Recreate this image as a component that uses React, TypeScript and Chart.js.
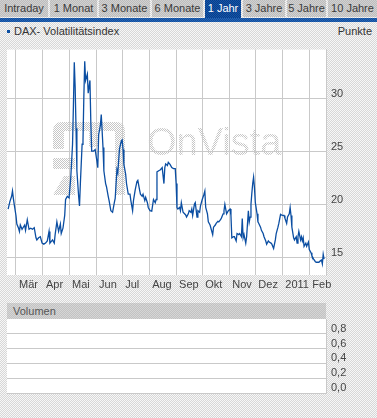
import React, { useEffect, useRef } from "react";
import { Chart, registerables } from "chart.js";

Chart.register(...registerables);

// ---------- data ----------
const tabLabels = ["Intraday", "1 Monat", "3 Monate", "6 Monate", "1 Jahr", "3 Jahre", "5 Jahre", "10 Jahre"];
const activeTab = "1 Jahr";
const seriesName = "DAX- Volatilitätsindex";
const unitLabel = "Punkte";
const volumeTitle = "Volumen";

// days counted from 1 March 2010
const dayOffsets = [
  -9, -7, -5, -4, -3, -2, 0, 1, 3, 4, 5, 7, 10, 11, 13, 15, 17, 19, 21, 23, 24, 26, 28, 30, 32, 34, 36, 38, 39, 42,
  44, 45, 47, 49, 51, 52, 54, 56, 57, 59, 61, 63, 65, 66, 67, 68, 69, 70, 72, 73, 74, 76, 77, 78, 79, 80, 82, 83, 85, 86,
  87, 89, 91, 93, 94, 95, 97, 98, 100, 101, 103, 104, 106, 107, 109, 111, 113, 114, 116, 117, 118, 119, 121, 122, 123, 124, 126, 127, 129, 131,
  132, 134, 135, 137, 139, 140, 142, 143, 145, 146, 148, 149, 151, 152, 154, 156, 158, 160, 161, 162, 164, 166, 168, 170, 171, 172, 174, 175, 177, 179,
  181, 183, 184, 185, 186, 188, 189, 190, 192, 193, 195, 196, 198, 199, 201, 202, 203, 205, 206, 208, 209, 211, 212, 214, 216, 217, 218, 220, 221, 223,
  224, 226, 227, 229, 230, 232, 233, 235, 236, 238, 239, 240, 242, 244, 246, 247, 248, 250, 251, 253, 254, 256, 257, 259, 260, 261, 262, 264, 265, 267,
  268, 269, 270, 271, 272, 273, 274, 275, 277, 278, 279, 281, 282, 284, 285, 287, 288, 290, 291, 293, 294, 296, 298, 299, 301, 302, 304, 306, 308, 309,
  311, 312, 314, 315, 316, 317, 319, 320, 322, 323, 324, 325, 327, 328, 329, 330, 331, 333, 334, 336, 337, 339, 340, 342, 344, 345, 347, 348, 350, 351,
  352, 353, 354,
];
const vdaxValues = [
  19.6, 20.3, 20.8, 21.3, 20.6, 20.05, 19.0, 18.2, 17.8, 17.5, 18.1, 17.7, 18.1, 17.6, 18.6, 17.7, 17.8, 17.7, 17.85, 16.9, 16.7, 16.9, 17.0, 16.4, 16.3, 16.4, 16.6, 17.5, 16.4, 16.7,
  16.4, 17.2, 18.4, 17.5, 18.2, 17.3, 17.8, 19.0, 20.5, 20.8, 20.65, 22.6, 25.7, 29.3, 33.4, 31.1, 27.2, 23.2, 20.8, 19.9, 22.0, 25.7, 26.0, 30.2, 33.5, 31.7, 32.3, 30.5, 31.7, 27.8,
  25.05, 25.05, 25.2, 24.1, 23.5, 26.6, 27.5, 28.5, 25.4, 23.2, 22.0, 21.7, 20.8, 20.4, 19.45, 19.3, 20.2, 20.6, 23.3, 23.0, 24.2, 25.3, 26.0, 26.1, 25.2, 23.8, 22.9, 22.0, 21.0, 21.0,
  20.4, 19.45, 20.4, 21.4, 22.2, 22.3, 21.4, 21.0, 20.8, 21.0, 20.4, 20.7, 20.2, 19.75, 19.45, 19.4, 20.5, 20.2, 20.5, 23.1, 23.2, 23.3, 23.5, 22.0, 23.5, 23.85, 23.7, 24.0, 23.8, 23.5,
  23.4, 23.4, 22.0, 19.75, 19.6, 19.75, 19.45, 20.2, 19.3, 19.3, 19.05, 18.85, 19.15, 19.45, 19.3, 19.6, 19.0, 20.05, 20.2, 18.85, 19.45, 19.3, 19.9, 20.5, 21.0, 21.3, 19.75, 19.15, 18.4, 18.1,
  18.1, 17.2, 17.9, 18.1, 18.25, 18.45, 18.4, 18.6, 18.75, 19.15, 19.45, 20.05, 19.15, 19.45, 19.6, 19.0, 16.9, 17.0, 17.0, 16.6, 17.3, 17.2, 17.3, 17.0, 18.7, 16.9, 17.2, 16.4, 17.0, 19.45,
  18.4, 18.85, 20.05, 21.1, 22.0, 22.6, 21.6, 20.2, 19.15, 18.4, 18.25, 17.9, 17.6, 17.3, 17.0, 16.6, 16.3, 16.6, 16.5, 16.4, 16.3, 15.9, 16.7, 17.3, 17.9, 18.25, 19.1, 19.0, 19.0, 18.75,
  18.25, 18.85, 19.15, 19.75, 19.0, 17.9, 16.9, 16.7, 17.0, 16.4, 17.0, 17.5, 16.7, 17.0, 16.6, 16.9, 16.1, 16.4, 16.1, 16.5, 15.8, 15.5, 15.2, 14.9, 14.65, 14.6, 14.6, 14.6, 14.75, 14.8,
  14.45, 15.35, 14.9,
];

const monthStarts = [0, 31, 61, 92, 122, 153, 184, 214, 245, 275, 306, 337];
const monthLabels = ["Mär", "Apr", "Mai", "Jun", "Jul", "Aug", "Sep", "Okt", "Nov", "Dez", "2011", "Feb"];
const priceTicks = [15, 20, 25, 30];
const volumeTicks = [0, 0.2, 0.4, 0.6, 0.8];
const volumeValues: number[] = [];

// ---------- layout / style ----------
const FONT = '"Liberation Sans", Arial, Helvetica, sans-serif';
const GRID = "#c9c9c9";
const LINE = "#0b4ea2";
const TAB_BOXES = [
  [0, 48], [50, 97], [99, 150], [152, 203], [205, 241], [243, 285], [287, 326], [328, 377],
];

const checker = (a: string, b: string): React.CSSProperties => ({
  backgroundColor: b,
  backgroundImage: `conic-gradient(${a} 25%, ${b} 0 50%, ${a} 0 75%, ${b} 0)`,
  backgroundSize: "2px 2px",
});

function ditherCanvas(a: string, b: string) {
  const c = document.createElement("canvas");
  c.width = 2;
  c.height = 2;
  const x = c.getContext("2d")!;
  x.fillStyle = b;
  x.fillRect(0, 0, 2, 2);
  x.fillStyle = a;
  x.fillRect(0, 0, 1, 1);
  x.fillRect(1, 1, 1, 1);
  return c;
}

export default function App() {
  const mainRef = useRef<HTMLCanvasElement>(null);
  const volRef = useRef<HTMLCanvasElement>(null);

  useEffect(() => {
    document.body.style.margin = "0";
    const whiteArea = (withMark: boolean) => ({
      id: "whiteArea",
      beforeDraw(chart: any) {
        const { ctx, chartArea: a } = chart;
        ctx.save();
        ctx.fillStyle = "#ffffff";
        ctx.fillRect(a.left, a.top, a.right - a.left, a.bottom - a.top);
        if (withMark) {
          const pat = ctx.createPattern(ditherCanvas("#c6c6c6", "#ffffff"), "repeat");
          ctx.fillStyle = pat;
          ctx.font = `38px ${FONT}`;
          ctx.textBaseline = "alphabetic";
          ctx.fillText("OnVista", 147, 117);
          // logo
          const r = (x: number, y: number, w: number, h: number) => ctx.fillRect(x, y - 38, w, h);
          ctx.beginPath();
          ctx.moveTo(53, 131 - 38);
          ctx.quadraticCurveTo(53, 122 - 38, 62, 122 - 38);
          ctx.lineTo(116, 122 - 38);
          ctx.quadraticCurveTo(125, 122 - 38, 125, 131 - 38);
          ctx.closePath();
          ctx.fill();
          r(53, 131, 11, 18);
          r(89, 131, 9, 16);
          r(115, 131, 10, 64);
          r(53, 158, 22, 11);
          ctx.beginPath();
          ctx.moveTo(53, 195 - 38);
          ctx.lineTo(64, 176 - 38);
          ctx.lineTo(75, 176 - 38);
          ctx.lineTo(75, 195 - 38);
          ctx.closePath();
          ctx.fill();
        }
        ctx.restore();
      },
    });

    const main = new Chart(mainRef.current!, {
      type: "line",
      data: {
        datasets: [
          {
            label: seriesName,
            data: dayOffsets.map((d, i) => ({ x: d, y: vdaxValues[i] })),
            borderColor: LINE,
            borderWidth: 1.3,
            pointRadius: 0,
            tension: 0,
            fill: false,
          },
        ],
      },
      options: {
        animation: false,
        responsive: false,
        events: [],
        layout: { padding: { left: 7, top: 4, right: 0, bottom: 8 } },
        plugins: { legend: { display: false }, tooltip: { enabled: false } },
        scales: {
          x: {
            type: "linear",
            min: -10.3,
            max: 356.2,
            afterBuildTicks: (s: any) => {
              s.ticks = monthStarts.map((v) => ({ value: v }));
            },
            afterFit: (s: any) => {
              s.height = 17;
            },
            ticks: {
              autoSkip: false,
              maxRotation: 0,
              align: "start",
              labelOffset: 3,
              padding: 3,
              color: "#444",
              font: { family: FONT, size: 11 },
              callback: (v: any) => monthLabels[monthStarts.indexOf(Number(v))],
            },
            grid: { color: GRID, drawTicks: false, lineWidth: 1 },
            border: { display: false },
          },
          y: {
            position: "right",
            min: 13.4,
            max: 34.6,
            afterBuildTicks: (s: any) => {
              s.ticks = priceTicks.map((v) => ({ value: v }));
            },
            afterFit: (s: any) => {
              s.width = 51;
            },
            ticks: {
              padding: 5,
              labelOffset: -5,
              color: "#444",
              font: { family: FONT, size: 11 },
              callback: (v: any) => String(v),
            },
            grid: { color: GRID, drawTicks: false, lineWidth: 1 },
            border: { display: true, color: GRID },
          },
        },
      },
      plugins: [whiteArea(true)],
    });

    const vol = new Chart(volRef.current!, {
      type: "bar",
      data: {
        datasets: [{ label: volumeTitle, data: volumeValues.map((v, i) => ({ x: i, y: v })), backgroundColor: LINE }],
      },
      options: {
        animation: false,
        responsive: false,
        events: [],
        layout: { padding: { left: 7, top: 19, right: 0, bottom: 25 } },
        plugins: { legend: { display: false }, tooltip: { enabled: false } },
        scales: {
          x: { type: "linear", min: -10.3, max: 356.2, display: false },
          y: {
            position: "right",
            min: 0,
            max: 1,
            afterBuildTicks: (s: any) => {
              s.ticks = volumeTicks.map((v) => ({ value: v }));
            },
            afterFit: (s: any) => {
              s.width = 51;
            },
            ticks: {
              padding: 5,
              labelOffset: -5,
              color: "#444",
              font: { family: FONT, size: 11 },
              callback: (v: any) => Number(v).toFixed(1).replace(".", ","),
            },
            grid: { color: GRID, drawTicks: false, lineWidth: 1 },
            border: { display: true, color: GRID },
          },
        },
      },
      plugins: [whiteArea(false)],
    });

    return () => {
      main.destroy();
      vol.destroy();
    };
  }, []);

  return (
    <div
      style={{
        position: "fixed",
        left: 0,
        top: 0,
        width: 377,
        height: 418,
        overflow: "hidden",
        fontFamily: FONT,
        fontSize: 11,
        ...checker("#d7d7d7", "#f7f7f7"),
      }}
    >
      {tabLabels.map((t, i) => {
        const active = t === activeTab;
        const [l, r] = TAB_BOXES[i];
        return (
          <div
            key={t}
            style={{
              position: "absolute",
              left: l,
              top: 0,
              width: r - l,
              height: active ? 18 : 17,
              lineHeight: "17px",
              textAlign: "center",
              color: active ? "#ffffff" : "#3a3a3a",
              whiteSpace: "nowrap",
              ...(active ? checker("#063f8c", "#1654a6") : checker("#bcbcbc", "#d2d2d2")),
            }}
          >
            {t}
          </div>
        );
      })}
      <div style={{ position: "absolute", left: 0, top: 18, width: 377, height: 4, ...checker("#0f4e9f", "#2a66b4") }} />
      <div style={{ position: "absolute", left: 7, top: 30, width: 3, height: 3, background: LINE }} />
      <div style={{ position: "absolute", left: 14, top: 25, lineHeight: "13px", color: "#333", whiteSpace: "nowrap" }}>
        {seriesName}
      </div>
      <div style={{ position: "absolute", right: 5, top: 25, lineHeight: "13px", color: "#333" }}>{unitLabel}</div>
      <canvas
        ref={mainRef}
        width={377}
        height={262}
        style={{ position: "absolute", left: 0, top: 38, width: 377, height: 262 }}
      />
      <div
        style={{
          position: "absolute",
          left: 7,
          top: 303,
          width: 319,
          height: 16,
          lineHeight: "16px",
          color: "#555",
          ...checker("#c2c2c2", "#d6d6d6"),
        }}
      >
        <span style={{ marginLeft: 6 }}>{volumeTitle}</span>
      </div>
      <canvas
        ref={volRef}
        width={377}
        height={118}
        style={{ position: "absolute", left: 0, top: 300, width: 377, height: 118 }}
      />
    </div>
  );
}
